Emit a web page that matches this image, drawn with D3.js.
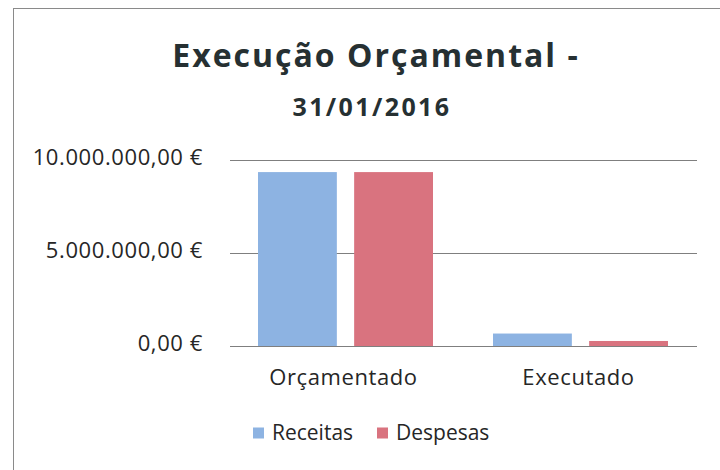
<!DOCTYPE html>
<html><head><meta charset="utf-8">
<script src="https://cdn.jsdelivr.net/npm/d3@7"></script>
<style>body{margin:0;background:#fff}svg{display:block}</style>
</head><body>
<script>
const categories = ["Orçamentado", "Executado"];
const seriesNames = ["Receitas", "Despesas"];
const receitas = [9350000, 670000];
const despesas = [9350000, 270000];
const yTicks = [0, 5000000, 10000000];
const colors = ["#8db3e2", "#d9737f"];

const W = 720, H = 470;
const svg = d3.select("body").append("svg").attr("width", W).attr("height", H);
const font = "'Open Sans', sans-serif";

svg.append("rect").attr("x", 13.5).attr("y", 8.5).attr("width", 720).attr("height", 480)
  .attr("fill", "none").attr("stroke", "#8a8a8a").attr("stroke-width", 1);

const x0 = d3.scaleBand().domain(categories).range([228, 698]);
const x1 = d3.scaleBand().domain(seriesNames).range([30, 205]).paddingInner(0.18);
const y = d3.scaleLinear().domain([0, 10000000]).range([346, 160]);

const fmt = v => d3.format(",.2f")(v).replace(/,/g, "X").replace(/\./g, ",").replace(/X/g, ".") + " €";

svg.append("g").selectAll("line").data(yTicks).join("line")
  .attr("x1", 230).attr("x2", 697).attr("y1", d => y(d) + 0.5).attr("y2", d => y(d) + 0.5)
  .attr("stroke", "#7f7f7f").attr("stroke-width", 1);

svg.append("g").selectAll("text").data(yTicks).join("text")
  .attr("x", 203).attr("y", d => y(d) - 3).attr("dy", "0.35em").attr("text-anchor", "end")
  .attr("font-family", font).attr("font-size", 22).attr("letter-spacing", 0.6)
  .attr("fill", "#262626").text(fmt);

const data = categories.map((c, i) => ({cat: c, vals: [receitas[i], despesas[i]]}));
const g = svg.append("g").selectAll("g").data(data).join("g")
  .attr("transform", d => `translate(${x0(d.cat)},0)`);
g.selectAll("rect").data(d => d.vals.map((v, j) => ({s: seriesNames[j], v, j}))).join("rect")
  .attr("x", d => x1(d.s)).attr("width", x1.bandwidth())
  .attr("y", d => y(d.v)).attr("height", d => y(0) - y(d.v))
  .attr("fill", d => colors[d.j]);

svg.append("g").selectAll("text").data(categories).join("text")
  .attr("x", d => x0(d) + x0.bandwidth() / 2 - 2).attr("y", 377).attr("dy", "0.35em")
  .attr("text-anchor", "middle").attr("font-family", font).attr("font-size", 22)
  .attr("letter-spacing", 0.6).attr("fill", "#262626").text(d => d);

svg.append("text").attr("x", 376).attr("y", 67).attr("text-anchor", "middle")
  .attr("font-family", font).attr("font-weight", "bold").attr("font-size", 32)
  .attr("letter-spacing", 2).attr("fill", "#263032").text("Execução Orçamental -");
svg.append("text").attr("x", 372).attr("y", 116).attr("text-anchor", "middle")
  .attr("font-family", font).attr("font-weight", "bold").attr("font-size", 25)
  .attr("letter-spacing", 2.4).attr("fill", "#263032").text("31/01/2016");

const leg = svg.append("g").selectAll("g").data(seriesNames).join("g")
  .attr("transform", (d, i) => `translate(${i === 0 ? 253 : 377},433)`);
leg.append("rect").attr("x", 0).attr("y", -5.5).attr("width", 11).attr("height", 11)
  .attr("fill", (d, i) => colors[i]);
leg.append("text").attr("x", 19).attr("y", 0).attr("dy", "0.35em")
  .attr("font-family", font).attr("font-size", 21).attr("fill", "#262626").text(d => d);
</script>
</body></html>
